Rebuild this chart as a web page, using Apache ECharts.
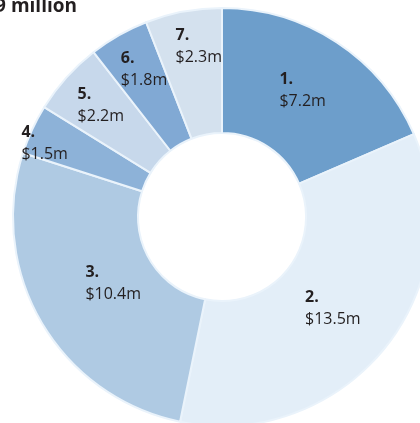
<!DOCTYPE html>
<html>
<head>
<meta charset="utf-8">
<script src="https://cdn.jsdelivr.net/npm/echarts@6/dist/echarts.min.js"></script>
<style>
  html, body { margin: 0; padding: 0; background: #ffffff; }
  #chart { width: 420px; height: 423px; }
</style>
</head>
<body>
<div id="chart"></div>
<script>
// Ranked funding shares, in millions of dollars
const ranks = ['1.', '2.', '3.', '4.', '5.', '6.', '7.'];
const amounts = [7.2, 13.5, 10.4, 1.5, 2.2, 1.8, 2.3];
const sliceColors = ['#6d9ecb', '#e3eef8', '#afcae3', '#8db2d8', '#c7d8eb', '#81a9d4', '#d4e1ee'];

const total = amounts.reduce((a, b) => a + b, 0);
const titleText = 'Total: $' + total.toFixed(1) + ' million';

// Donut geometry
const CX = 222, CY = 217, R_IN = 84, R_OUT = 209;
// Distance of each label block's centre from the donut centre
const labelRadius = [153, 142, 126, 193, 167, 170, 175];
// Small angular nudge (degrees) so labels sit clear of the slice borders
const labelTurn = [1.5, 0.4, 0, 1.5, -1.6, -2.3, -3];

// Mid angle of every slice (degrees, counter-clockwise from +x), clockwise from 12 o'clock
const midAngles = [];
let acc = 0;
amounts.forEach(v => {
  midAngles.push(90 - (acc + v / 2) / total * 360);
  acc += v;
});

const chart = echarts.init(document.getElementById('chart'), null, { renderer: 'canvas' });

chart.setOption({
  animation: false,
  graphic: [{
    type: 'text',
    x: 77,
    y: 7,
    style: {
      text: titleText,
      align: 'right',
      verticalAlign: 'middle',
      font: 'bold 19px "Open Sans", sans-serif',
      fill: '#231f20'
    }
  }],
  series: [{
    type: 'pie',
    center: [CX, CY],
    radius: [R_IN, R_OUT],
    startAngle: 90,
    clockwise: true,
    avoidLabelOverlap: false,
    itemStyle: { borderColor: '#eaf3fb', borderWidth: 2 },
    emphasis: { disabled: true },
    labelLine: { show: false },
    label: {
      show: true,
      position: 'inside',
      formatter: p => '{b|' + p.name + '}\n{v|$' + p.value + 'm}',
      rich: {
        b: { fontFamily: 'Open Sans', fontSize: 16, fontWeight: 'bold', color: '#231f20', lineHeight: 22, align: 'left' },
        v: { fontFamily: 'Open Sans', fontSize: 16, color: '#231f20', lineHeight: 22, align: 'left' }
      }
    },
    labelLayout: params => {
      const i = params.dataIndex;
      const r = labelRadius[i];
      const a = (midAngles[i] + labelTurn[i]) * Math.PI / 180;
      const px = CX + r * Math.cos(a);
      const py = CY - r * Math.sin(a);
      return {
        x: px - params.labelRect.width / 2,
        y: py - params.labelRect.height / 2,
        align: 'left',
        verticalAlign: 'top'
      };
    },
    data: ranks.map((name, i) => ({
      name: name,
      value: amounts[i],
      itemStyle: { color: sliceColors[i] }
    }))
  }]
});
</script>
</body>
</html>
